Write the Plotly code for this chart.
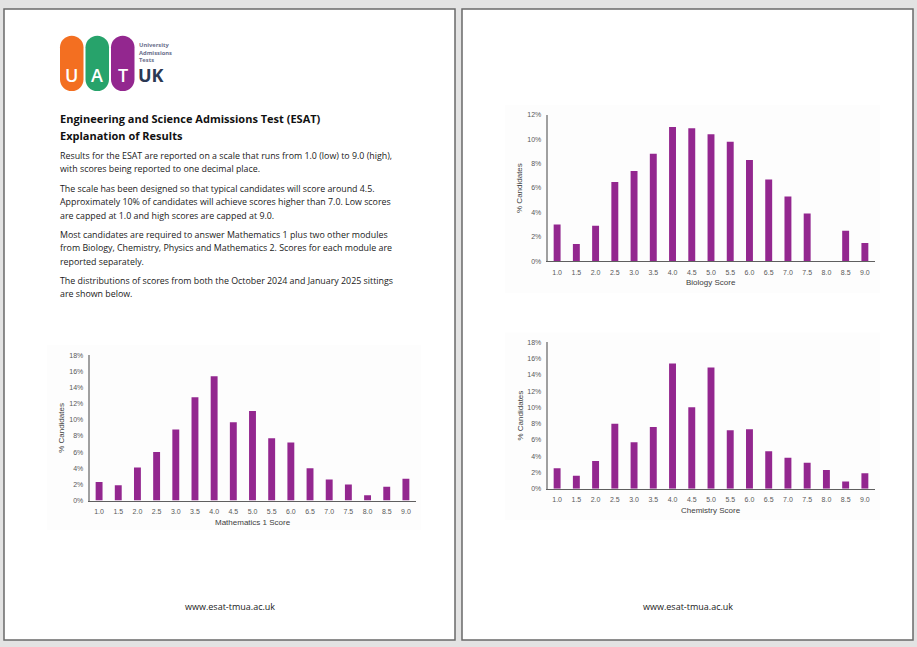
import plotly.graph_objects as go

W, H = 917, 647

scores = ["1.0", "1.5", "2.0", "2.5", "3.0", "3.5", "4.0", "4.5", "5.0",
          "5.5", "6.0", "6.5", "7.0", "7.5", "8.0", "8.5", "9.0"]
math1_pct = [2.3, 1.9, 4.1, 6.0, 8.8, 12.8, 15.4, 9.7, 11.1,
             7.7, 7.2, 4.0, 2.6, 2.0, 0.65, 1.7, 2.7]
biology_pct = [3.0, 1.4, 2.9, 6.5, 7.4, 8.8, 11.0, 10.9, 10.4,
               9.8, 8.3, 6.7, 5.3, 3.9, 0.0, 2.5, 1.5]
chemistry_pct = [2.5, 1.6, 3.4, 8.0, 5.7, 7.6, 15.4, 10.0, 14.9,
                 7.2, 7.3, 4.6, 3.8, 3.2, 2.3, 0.9, 1.9]

BAR = "#93278f"
TICK = "#595959"
FONT_CHART = "Liberation Sans"
FONT_TEXT = "Open Sans"


def fx(x):
    return x / W


def fy(y):
    return 1 - y / H


charts = [
    # values, x0, x1, y_top, y_bottom, ymax, title, title_y, ylabel_x, chart box
    (math1_pct, 89.5, 415.5, 355, 502, 18, "Mathematics 1 Score", 524, 62, (47, 421, 345, 532)),
    (biology_pct, 547.5, 874.5, 112, 260, 12, "Biology Score", 282, 520, (505, 880, 102, 292)),
    (chemistry_pct, 547.5, 874.5, 342, 490, 18, "Chemistry Score", 512, 520, (505, 880, 332, 522)),
]

fig = go.Figure()
annotations = []
shapes = []

# pages
for (x0, x1) in [(4, 455), (462, 913)]:
    shapes.append(dict(type="rect", xref="paper", yref="paper",
                       x0=fx(x0), x1=fx(x1), y0=fy(643), y1=fy(5),
                       fillcolor="white", line=dict(color="#6a6a6a", width=1.5),
                       layer="below"))

for i, (vals, x0, x1, yt, yb, ymax, title, ty, ylx, box) in enumerate(charts):
    n = "" if i == 0 else str(i + 1)
    bx0, bx1, by0, by1 = box
    shapes.append(dict(type="rect", xref="paper", yref="paper",
                       x0=fx(bx0), x1=fx(bx1), y0=fy(by1), y1=fy(by0),
                       fillcolor="#fdfdfd", line=dict(width=0), layer="below"))
    fig.add_trace(go.Bar(x=scores, y=vals, xaxis="x" + n, yaxis="y" + n,
                         marker=dict(color=BAR, line=dict(width=0)),
                         width=0.36, showlegend=False, hoverinfo="x+y"))
    fig.update_layout(**{
        "xaxis" + n: dict(domain=[fx(x0), fx(x1)], anchor="y" + n,
                          type="category", range=[-0.5, 16.5],
                          showline=True, linecolor="#5f5f5f", linewidth=1,
                          showgrid=False, zeroline=False, ticks="",
                          ticklabelstandoff=4,
                          tickfont=dict(family=FONT_CHART, size=7, color=TICK)),
        "yaxis" + n: dict(domain=[fy(yb), fy(yt)], anchor="x" + n,
                          range=[0, ymax], dtick=2, ticksuffix="%",
                          showline=True, linecolor="#a0a0a0", linewidth=1.5,
                          showgrid=False, zeroline=False, ticks="",
                          ticklabelstandoff=3,
                          tickfont=dict(family=FONT_CHART, size=7, color=TICK)),
    })
    annotations.append(dict(text=title, xref="paper", yref="paper",
                            x=fx((x0 + x1) / 2), y=fy(ty), showarrow=False,
                            xanchor="center", yanchor="middle",
                            font=dict(family=FONT_CHART, size=8, color="#404040")))
    annotations.append(dict(text="% Candidates", xref="paper", yref="paper",
                            x=fx(ylx), y=fy((yt + yb) / 2), showarrow=False,
                            textangle=-90, xanchor="center", yanchor="middle",
                            font=dict(family=FONT_CHART, size=8, color="#404040")))

# text on left page
title_lines = [("Engineering and Science Admissions Test (ESAT)", 115.7),
               ("Explanation of Results", 132.7)]
for t, y in title_lines:
    annotations.append(dict(text="<b>" + t + "</b>", xref="paper", yref="paper",
                            x=fx(58), y=fy(y), showarrow=False,
                            xanchor="left", yanchor="middle",
                            font=dict(family=FONT_TEXT, size=11, color="#111111")))

body_lines = [
    ("Results for the ESAT are reported on a scale that runs from 1.0 (low) to 9.0 (high),", 154),
    ("with scores being reported to one decimal place.", 167.3),
    ("The scale has been designed so that typical candidates will score around 4.5.", 187.3),
    ("Approximately 10% of candidates will achieve scores higher than 7.0. Low scores", 200.3),
    ("are capped at 1.0 and high scores are capped at 9.0.", 214),
    ("Most candidates are required to answer Mathematics 1 plus two other modules", 233.3),
    ("from Biology, Chemistry, Physics and Mathematics 2. Scores for each module are", 246.7),
    ("reported separately.", 260.7),
    ("The distributions of scores from both the October 2024 and January 2025 sittings", 280),
    ("are shown below.", 292.7),
]
for t, y in body_lines:
    annotations.append(dict(text=t, xref="paper", yref="paper",
                            x=fx(58), y=fy(y), showarrow=False,
                            xanchor="left", yanchor="middle",
                            font=dict(family=FONT_TEXT, size=8.85, color="#1a1a1a")))

# footers
for cx in (230, 688):
    annotations.append(dict(text="www.esat-tmua.ac.uk", xref="paper", yref="paper",
                            x=fx(cx), y=fy(609), showarrow=False,
                            xanchor="center", yanchor="middle",
                            font=dict(family=FONT_TEXT, size=9, color="#1a1a1a")))

# logo
def pill(x0, x1, y0, y1):
    r = (x1 - x0) / 2
    k = 0.5523 * r
    xc = (x0 + x1) / 2
    pts = [
        f"M {fx(x0)},{fy(y0 + r)}",
        f"C {fx(x0)},{fy(y0 + r - k)} {fx(xc - k)},{fy(y0)} {fx(xc)},{fy(y0)}",
        f"C {fx(xc + k)},{fy(y0)} {fx(x1)},{fy(y0 + r - k)} {fx(x1)},{fy(y0 + r)}",
        f"L {fx(x1)},{fy(y1 - r)}",
        f"C {fx(x1)},{fy(y1 - r + k)} {fx(xc + k)},{fy(y1)} {fx(xc)},{fy(y1)}",
        f"C {fx(xc - k)},{fy(y1)} {fx(x0)},{fy(y1 - r + k)} {fx(x0)},{fy(y1 - r)}",
        "Z",
    ]
    return " ".join(pts)

logo = [("U", "#f36f21", 60, 83.5), ("A", "#27a36b", 85.5, 109), ("T", "#93278f", 111, 134.5)]
for letter, col, x0, x1 in logo:
    shapes.append(dict(type="path", xref="paper", yref="paper",
                       path=pill(x0, x1, 32, 88), fillcolor=col,
                       line=dict(width=0), layer="above"))
    annotations.append(dict(text=letter, xref="paper", yref="paper",
                            x=fx((x0 + x1) / 2), y=fy(71.5), showarrow=False,
                            xanchor="center", yanchor="middle",
                            font=dict(family=FONT_TEXT, size=18, color="white", weight=600)))

annotations.append(dict(text="<b>University<br>Admissions<br>Tests</b>",
                        xref="paper", yref="paper", align="left",
                        x=fx(138), y=fy(49.3), showarrow=False,
                        xanchor="left", yanchor="middle", borderpad=0,
                        font=dict(family=FONT_TEXT, size=5.8, color="#6a6f8c")))
annotations.append(dict(text="<b>UK</b>", xref="paper", yref="paper",
                        x=fx(137), y=fy(72), showarrow=False,
                        xanchor="left", yanchor="middle", borderpad=0,
                        font=dict(family=FONT_TEXT, size=18, color="#2b3953")))

fig.update_layout(
    width=W, height=H, autosize=False,
    margin=dict(l=0, r=0, t=0, b=0, pad=0),
    paper_bgcolor="#e3e3e3", plot_bgcolor="rgba(0,0,0,0)",
    bargap=0.6, showlegend=False,
    shapes=shapes, annotations=annotations,
)

fig.write_html("out.html", config={"displayModeBar": False},
               post_script="document.body.style.margin='0';document.body.style.padding='0';")
